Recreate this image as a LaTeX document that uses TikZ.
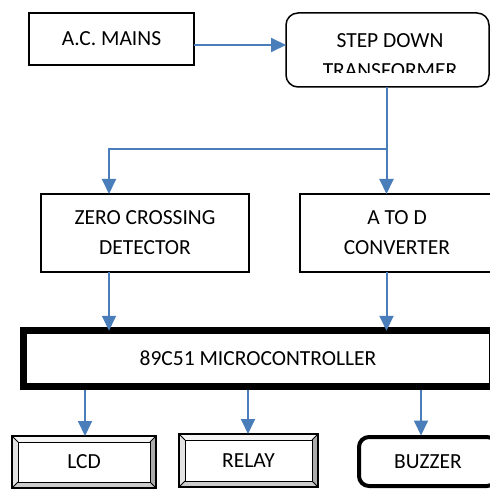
\documentclass[tikz,border=0pt]{standalone}
\usepackage{fontspec}
\setmainfont{Carlito}
\usetikzlibrary{arrows.meta}
\definecolor{arr}{RGB}{74,126,187}
\newcommand\bevelbox[2]{%
  \fill[gray!8] (#1.north west) -- (#1.north east) -- ([shift={(-#2,#2)}]#1.north east) -- ([shift={(#2,#2)}]#1.north west) -- cycle;
  \fill[gray!22] (#1.north west) -- (#1.south west) -- ([shift={(#2,-#2)}]#1.south west) -- ([shift={(#2,#2)}]#1.north west) -- cycle;
  \fill[gray!65] (#1.north east) -- (#1.south east) -- ([shift={(-#2,-#2)}]#1.south east) -- ([shift={(-#2,#2)}]#1.north east) -- cycle;
  \fill[gray!40] (#1.south west) -- (#1.south east) -- ([shift={(-#2,-#2)}]#1.south east) -- ([shift={(#2,-#2)}]#1.south west) -- cycle;
  \draw[line width=1.3pt] (#1.north west) rectangle (#1.south east);
  \draw[line width=1pt] ([shift={(#2,#2)}]#1.north west) rectangle ([shift={(-#2,-#2)}]#1.south east);
  \draw[line width=0.8pt] (#1.north west) -- ([shift={(#2,#2)}]#1.north west)
    (#1.north east) -- ([shift={(-#2,#2)}]#1.north east)
    (#1.south west) -- ([shift={(#2,-#2)}]#1.south west)
    (#1.south east) -- ([shift={(-#2,-#2)}]#1.south east);
}
\begin{document}
\begin{tikzpicture}[x=1pt,y=-1pt,
  txt/.style={font=\fontsize{21.5}{30}\selectfont, align=center, inner sep=0pt, outer sep=0pt},
  box/.style={txt, draw, line width=1.5pt, fill=white},
  rbox/.style={draw, line width=1.5pt, rounded corners=12pt, inner sep=0pt, outer sep=0pt},
  thickbox/.style={txt, draw, line width=7pt, fill=white},
  buzz/.style={txt, draw, line width=4pt, rounded corners=10pt, fill=white},
  bev/.style={txt},
  conn/.style={draw=arr, line width=2pt, -{Triangle[length=15pt,width=14pt]}},
  plain/.style={draw=arr, line width=2pt}]
\useasboundingbox (0,0) rectangle (490,489);
\clip (0,0) rectangle (490,489);
\fill[white] (0,0) rectangle (490,489);

% nodes
\node[box, minimum width=165pt, minimum height=52pt] (ac) at (111.5,39) {A.C. MAINS};
\node[rbox, minimum width=203pt, minimum height=74pt] (tr) at (387.5,50) {};
\begin{scope}
  \clip (280,0) rectangle (490,73);
  \node[txt] (trt) at (390,56) {STEP DOWN\\TRANSFORMER};
\end{scope}
\node[box, minimum width=208pt, minimum height=78pt] (zcd) at (145,233) {ZERO CROSSING\\DETECTOR};
\node[box, minimum width=194pt, minimum height=78pt] (atod) at (397,233) {A TO D\\CONVERTER};
\node[thickbox, minimum width=469pt, minimum height=55.5pt] (mc) at (258,358.5) {89C51 MICROCONTROLLER};
\node[bev, minimum width=144pt, minimum height=52pt] (lcd) at (84,462) {};
\bevelbox{lcd}{6}
\node[txt] at (lcd) {LCD};
\node[bev, minimum width=139pt, minimum height=53pt] (relay) at (248.5,460.5) {};
\bevelbox{relay}{6}
\node[txt] at (relay) {RELAY};
\node[buzz, minimum width=138pt, minimum height=49pt] (buzzer) at (428,461.5) {BUZZER};

% helper x positions
\coordinate (xz) at (109,0);
\coordinate (xa) at (386.5,0);
\coordinate (xl) at (85,0);
\coordinate (xr) at (248,0);
\coordinate (xb) at (421,0);
\coordinate (jn) at (386.5,149);

% connectors
\draw[conn] ([yshift=-6pt]ac.east) -- ([yshift=5pt]tr.west);
\draw[plain] (tr.south -| jn) -- (jn);
\draw[conn] (jn) -| (zcd.north -| xz);
\draw[conn] (jn) -- (atod.north -| jn);
\draw[conn] (zcd.south -| xz) -- (mc.north -| xz);
\draw[conn] (atod.south -| xa) -- (mc.north -| xa);
\draw[conn, shorten <=3.5pt] (mc.south -| xl) -- (lcd.north -| xl);
\draw[conn, shorten <=3.5pt] (mc.south -| xr) -- (relay.north -| xr);
\draw[conn, shorten <=3.5pt, shorten >=-0.5pt] (mc.south -| xb) -- ([yshift=2pt]buzzer.north -| xb);
\end{tikzpicture}
\end{document}
